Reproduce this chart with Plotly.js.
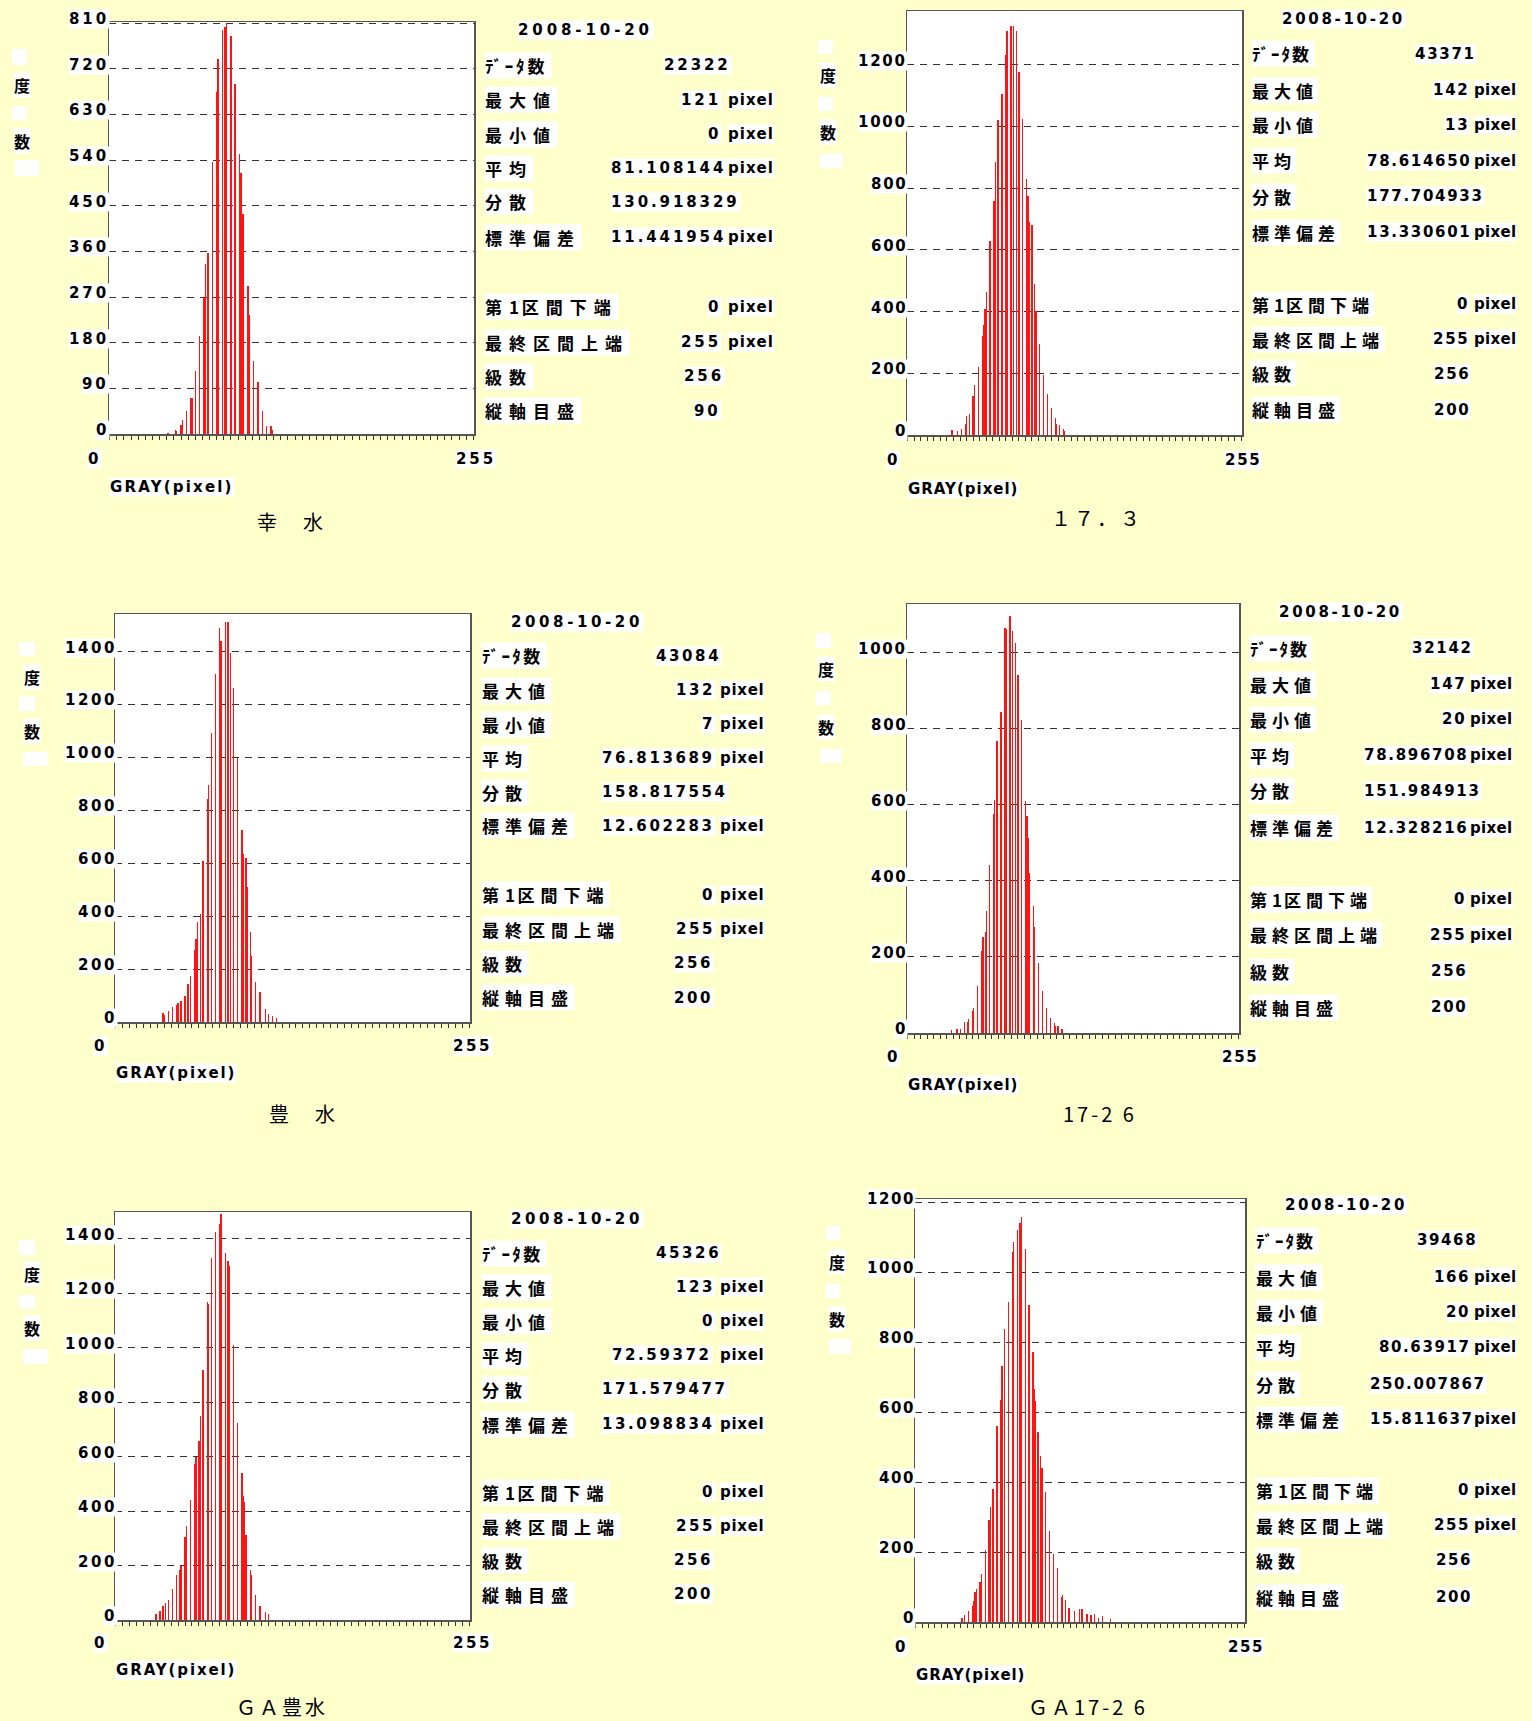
<!DOCTYPE html>
<html><head><meta charset="utf-8">
<script src="https://cdn.plot.ly/plotly-3.0.1.min.js"></script>
<style>html,body{margin:0;padding:0;background:#FFFFCC;}</style>
</head><body><div id="chart" style="width:1532px;height:1721px;"></div>
<script>
// ---------------- data ----------------
const dateText = '2008-10-20';
const statLabels = ['ﾃﾞｰﾀ数','最大値','最小値','平均','分散','標準偏差','第1区間下端','最終区間上端','級数','縦軸目盛'];
const subtitles = ['幸　水','１７．３','豊　水','17-2 6','ＧＡ豊水','ＧＡ17-2 6'];
const xTitle = 'GRAY(pixel)';
const xEndLabels = ['0','255'];
const sideLabels = ['度','数'];
const unitText = 'pixel';

const bins1 = [41,46,47,50,51,54,57,58,60,63,66,67,69,72,75,76,79,81,82,85,88,91,92,93,94,97,98,101,104,107,110,113,114];
const counts1 = [2,8,5,18,27,45,71,71,125,193,270,336,356,536,675,739,796,803,810,784,689,552,515,433,433,292,234,144,102,45,16,16,7];
const bins2 = [34,38,41,44,45,47,50,51,54,57,58,59,60,63,66,67,69,72,75,76,79,81,83,85,88,91,92,93,95,97,98,101,104,107,110,113,114,116,119,120];
const counts2 = [16,14,19,37,62,69,125,162,219,320,355,408,462,630,758,884,1020,1104,1231,1310,1327,1326,1308,1177,1023,831,776,690,681,489,403,294,194,134,89,56,37,32,19,13];
const bins3 = [34,35,38,41,44,45,47,50,52,54,57,58,59,61,63,66,67,69,72,75,76,79,81,83,85,88,91,92,94,95,97,98,101,104,108,110,113,116];
const counts3 = [35,27,42,58,64,72,80,98,145,173,272,314,379,410,607,844,894,1093,1315,1490,1441,1511,1510,1393,1263,999,726,635,621,512,342,250,153,114,51,29,23,16];
const bins4 = [34,38,41,44,46,47,50,51,54,57,58,60,61,63,66,67,69,72,75,76,79,81,83,85,88,91,92,93,94,97,98,101,104,107,110,113,114,116,119];
const counts4 = [7,10,10,29,29,36,59,67,124,215,252,265,322,441,575,613,769,844,1065,1062,1096,1058,1026,942,824,610,570,513,421,335,278,184,110,66,40,25,19,18,10];
const bins5 = [29,32,34,36,38,41,44,46,47,50,51,54,57,58,60,61,63,66,67,69,72,75,76,79,81,82,85,88,91,92,93,94,97,98,101,104,108,110];
const counts5 = [23,33,50,64,74,113,164,183,197,303,345,440,573,597,656,748,918,1167,1159,1330,1425,1453,1490,1347,1317,1298,1008,722,541,454,432,313,184,164,92,51,29,21];
const bins6 = [36,38,41,44,45,46,47,50,51,54,57,58,60,63,66,67,69,72,75,76,79,81,82,85,88,91,92,93,95,97,98,101,104,107,110,113,114,116,119,123,127,129,133,136,139,142,145,151];
const counts6 = [12,21,31,46,60,86,93,115,137,207,292,330,380,560,636,733,837,915,1058,1088,1121,1141,1159,1067,908,771,666,633,543,475,441,371,261,194,155,71,77,62,41,31,36,36,22,19,22,12,17,9];

const stats1 = ['22322','121','0','81.108144','130.918329','11.441954','0','255','256','90'];
const stats2 = ['43371','142','13','78.614650','177.704933','13.330601','0','255','256','200'];
const stats3 = ['43084','132','7','76.813689','158.817554','12.602283','0','255','256','200'];
const stats4 = ['32142','147','20','78.896708','151.984913','12.328216','0','255','256','200'];
const stats5 = ['45326','123','0','72.59372','171.579477','13.098834','0','255','256','200'];
const stats6 = ['39468','166','20','80.63917','250.007867','15.811637','0','255','256','200'];

const yticks1 = [0,90,180,270,360,450,540,630,720,810];
const yticks2 = [0,200,400,600,800,1000,1200];
const yticks3 = [0,200,400,600,800,1000,1200,1400];
const yticks4 = [0,200,400,600,800,1000];
const yticks5 = [0,200,400,600,800,1000,1200,1400];
const yticks6 = [0,200,400,600,800,1000,1200];

const allBins = [bins1,bins2,bins3,bins4,bins5,bins6];
const allCounts = [counts1,counts2,counts3,counts4,counts5,counts6];
const allStats = [stats1,stats2,stats3,stats4,stats5,stats6];
const allTicks = [yticks1,yticks2,yticks3,yticks4,yticks5,yticks6];

// ---------------- layout (pixel positions) ----------------
const W = 1532, H = 1721;
const fx = x => x / W, fy = y => 1 - y / H;
const P = [
 {box:[109,474,22,434], yMax:812, date:[517,30], labX:484, rows:[65,100,134,168,202,237,307,342,376,411], cntR:729, intR:719, pixL:727, meanL:610, decL:610, clsL:683, scaleL:693, ls:2.9, cs:7,
  wb:[[12,27,49,65],[12,27,106,120],[15,39,160,176]], du:[22,85], su:[22,141], tickR:107, x0:[94,459], x255:[476,459], gray:[109,487], sub:[291,521]},
 {box:[907,1242,11,435], yMax:1374, date:[1281,19], labX:1251, rows:[54,90,125,161,196,232,304,339,374,410], cntR:1475, intR:1468, pixL:1473, meanL:1366, decL:1366, clsL:1433, scaleL:1433, ls:1.7, cs:5,
  wb:[[818,833,40,54],[818,833,97,111],[820,843,154,168]], du:[828,75], su:[828,132], tickR:906, x0:[893,460], x255:[1243,460], gray:[907,489], sub:[1097,517]},
 {box:[115,470,614,1022], yMax:1542, date:[510,622], labX:481, rows:[656,690,724,758,792,826,895,929,963,998], cntR:719, intR:713, pixL:719, meanL:601, decL:601, clsL:673, scaleL:673, ls:2.6, cs:6,
  wb:[[19,35,642,656],[19,35,696,711],[23,48,752,766]], du:[32,677], su:[32,731], tickR:115, x0:[100,1046], x255:[472,1046], gray:[115,1073], sub:[303,1113]},
 {box:[907,1239,604,1033], yMax:1128, date:[1278,612], labX:1249, rows:[648,684,719,755,791,828,899,935,971,1007], cntR:1472, intR:1465, pixL:1469, meanL:1363, decL:1363, clsL:1430, scaleL:1430, ls:1.7, cs:5,
  wb:[[816,831,633,648],[816,831,691,705],[820,842,749,763]], du:[826,669], su:[826,727], tickR:906, x0:[893,1057], x255:[1240,1057], gray:[907,1085], sub:[1100,1113]},
 {box:[115,470,1212,1620], yMax:1498, date:[510,1219], labX:481, rows:[1253,1287,1321,1355,1389,1424,1492,1526,1560,1594], cntR:719, intR:713, pixL:719, meanL:611, decL:601, clsL:673, scaleL:673, ls:2.6, cs:6,
  wb:[[19,35,1240,1255],[19,35,1295,1309],[23,48,1349,1364]], du:[32,1274], su:[32,1328], tickR:115, x0:[100,1643], x255:[472,1643], gray:[115,1670], sub:[282,1706]},
 {box:[915,1245,1199,1622], yMax:1210, date:[1284,1205], labX:1255, rows:[1240,1277,1312,1347,1384,1419,1490,1525,1560,1597], cntR:1476, intR:1469, pixL:1473, meanL:1378, decL:1369, clsL:1435, scaleL:1435, ls:1.6, cs:5,
  wb:[[826,840,1226,1240],[826,840,1284,1298],[829,851,1339,1354]], du:[837,1262], su:[837,1319], tickR:914, x0:[901,1647], x255:[1246,1647], gray:[915,1675], sub:[1088,1706]}
];

const NUMF = 'DejaVu Sans, Noto Sans CJK JP, sans-serif';
const CJKF = 'Noto Sans CJK JP, DejaVu Sans, sans-serif';
const TXT = '#000';
function sp(t, s){ return '<span style="letter-spacing:' + s + 'px">' + t + '</span>'; }
function isHalf(c){ const code = c.charCodeAt(0); return code < 0x2000 || (code >= 0xFF61 && code <= 0xFF9F); }
// group runs of half-width / full-width characters, each run with its own spacing
function cjk(t, s){
  const runs = [];
  Array.from(t).forEach(c => {
    const h = isHalf(c);
    if (runs.length && runs[runs.length - 1].h === h) runs[runs.length - 1].t += c;
    else runs.push({h: h, t: c});
  });
  return runs.map(r => sp(r.t, r.h ? s * 0.4 : s)).join('');
}
function ann(text, x, y, o){
  return Object.assign({text: text, x: fx(x), y: fy(y), xref:'paper', yref:'paper', showarrow:false,
    xanchor:'left', yanchor:'middle', bgcolor:'#FFFFFF', borderpad:0,
    font:{family:NUMF, size:15, color:TXT, weight:'bold'}}, o || {});
}

const data = [];
const layout = {
  width: W, height: H, margin:{l:0,r:0,t:0,b:0,pad:0},
  paper_bgcolor:'#FFFFCC', plot_bgcolor:'#FFFFFF', showlegend:false, bargap:0,
  annotations: [], shapes: []
};

P.forEach((p, i) => {
  const sfx = i ? String(i + 1) : '';
  const xa = 'x' + sfx, ya = 'y' + sfx;
  data.push({type:'bar', x: allBins[i], y: allCounts[i], xaxis: xa, yaxis: ya, width: 1,
    marker:{color:'rgb(255,20,20)', line:{width:0}}, hoverinfo:'skip'});
  layout['xaxis' + sfx] = {domain:[fx(p.box[0]), fx(p.box[1])], anchor: ya, range:[-0.5, 255.5],
    showgrid:false, zeroline:false, showline:true, mirror:true, linecolor:'#555', linewidth:1.5,
    ticks:'outside', tickmode:'linear', tick0:0, dtick:5, ticklen:4, tickwidth:1, tickcolor:'#333',
    showticklabels:false, fixedrange:true};
  layout['yaxis' + sfx] = {domain:[fy(p.box[3]), fy(p.box[2])], anchor: xa, range:[0, p.yMax],
    showgrid:true, gridcolor:'#333', gridwidth:1, griddash:'7px,6px', zeroline:false,
    showline:true, mirror:true, linecolor:'#555', linewidth:1.5, ticks:'',
    tickmode:'array', tickvals: allTicks[i], showticklabels:false, fixedrange:true};

  const A = layout.annotations;
  // y tick labels
  allTicks[i].forEach(v => {
    A.push({text: sp(String(v), p.ls), xref:'paper', x: fx(p.tickR + p.ls), xanchor:'right', yref: ya, y: v,
      yanchor:'middle', yshift:4, showarrow:false, bgcolor:'#FFFFFF', borderpad:0,
      font:{family:NUMF, size:15, color:TXT, weight:'bold'}});
  });
  // x end labels and title
  A.push(ann(sp(xEndLabels[0], p.ls), p.x0[0], p.x0[1], {xanchor:'center'}));
  A.push(ann(sp(xEndLabels[1], p.ls), p.x255[0], p.x255[1], {xanchor:'center'}));
  A.push(ann(sp(xTitle, p.ls - 0.7), p.gray[0], p.gray[1]));
  A.push(ann(sp(subtitles[i], 3), p.sub[0], p.sub[1], {xanchor:'center', bgcolor:'#FFFFCC',
    font:{family:CJKF, size:20, color:'#000'}}));
  // side label
  p.wb.forEach(b => layout.shapes.push({type:'rect', xref:'paper', yref:'paper',
    x0: fx(b[0]), x1: fx(b[1]), y0: fy(b[3]), y1: fy(b[2]), fillcolor:'#FFFFFF', line:{width:0}}));
  A.push(ann(sideLabels[0], p.du[0], p.du[1], {xanchor:'center', font:{family:CJKF, size:16, color:TXT, weight:'bold'}}));
  A.push(ann(sideLabels[1], p.su[0], p.su[1], {xanchor:'center', font:{family:CJKF, size:16, color:TXT, weight:'bold'}}));
  // date
  A.push(ann(sp(dateText, p.ls + 1), p.date[0], p.date[1]));
  // stats labels
  statLabels.forEach((t, r) => {
    A.push(ann(cjk(t, p.cs), p.labX, p.rows[r], {font:{family:CJKF, size:17, color:TXT, weight:'bold'}}));
  });
  const s = allStats[i];
  const R = p.rows;
  A.push(ann(sp(s[0], p.ls), p.cntR + p.ls, R[0], {xanchor:'right'}));
  [1,2,6,7].forEach(r => A.push(ann(sp(s[r], p.ls), p.intR + p.ls, R[r], {xanchor:'right'})));
  A.push(ann(sp(s[3], p.ls), p.meanL, R[3]));
  A.push(ann(sp(s[4], p.ls), p.decL, R[4]));
  A.push(ann(sp(s[5], p.ls), p.decL, R[5]));
  A.push(ann(sp(s[8], p.ls), p.clsL, R[8]));
  A.push(ann(sp(s[9], p.ls), p.scaleL, R[9]));
  [1,2,3,5,6,7].forEach(r => A.push(ann(sp(unitText, Math.max(p.ls - 1.9, 0.3)), p.pixL, R[r])));
});

Plotly.newPlot('chart', data, layout, {staticPlot:true, displayModeBar:false});
</script></body></html>
